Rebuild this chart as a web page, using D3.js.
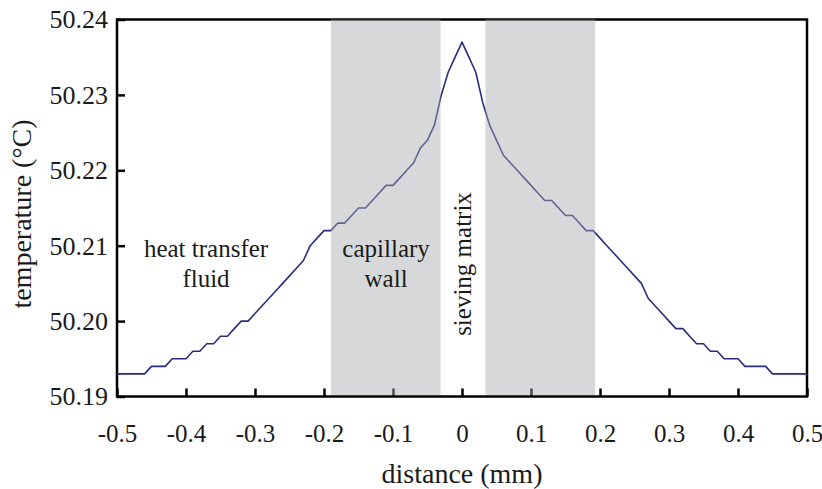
<!DOCTYPE html>
<html>
<head>
<meta charset="utf-8">
<script src="https://cdn.jsdelivr.net/npm/d3@7"></script>
<style>
  html, body { margin: 0; padding: 0; background: #fff; }
  svg { display: block; }
  svg text { font-family: 'Liberation Serif', Tinos, 'Times New Roman', serif; fill: #1a1a1a; }
</style>
</head>
<body>
<svg id="chart" width="822" height="489"></svg>
<script>
// Radial position across the capillary (mm)
const distance = [
  -0.50, -0.49, -0.48, -0.47, -0.46, -0.45, -0.44, -0.43, -0.42, -0.41,
  -0.40, -0.39, -0.38, -0.37, -0.36, -0.35, -0.34, -0.33, -0.32, -0.31,
  -0.30, -0.29, -0.28, -0.27, -0.26, -0.25, -0.24, -0.23, -0.22, -0.21,
  -0.20, -0.19, -0.18, -0.17, -0.16, -0.15, -0.14, -0.13, -0.12, -0.11,
  -0.10, -0.09, -0.08, -0.07, -0.06, -0.05, -0.04, -0.03, -0.02, -0.01,
   0.00,
   0.01,  0.02,  0.03,  0.04,  0.05,  0.06,  0.07,  0.08,  0.09,  0.10,
   0.11,  0.12,  0.13,  0.14,  0.15,  0.16,  0.17,  0.18,  0.19,  0.20,
   0.21,  0.22,  0.23,  0.24,  0.25,  0.26,  0.27,  0.28,  0.29,  0.30,
   0.31,  0.32,  0.33,  0.34,  0.35,  0.36,  0.37,  0.38,  0.39,  0.40,
   0.41,  0.42,  0.43,  0.44,  0.45,  0.46,  0.47,  0.48,  0.49,  0.50
];

// Temperature profile (°C)
const temperature = [
  50.193, 50.193, 50.193, 50.193, 50.193, 50.194, 50.194, 50.194, 50.195, 50.195,
  50.195, 50.196, 50.196, 50.197, 50.197, 50.198, 50.198, 50.199, 50.200, 50.200,
  50.201, 50.202, 50.203, 50.204, 50.205, 50.206, 50.207, 50.208, 50.210, 50.211,
  50.212, 50.212, 50.213, 50.213, 50.214, 50.215, 50.215, 50.216, 50.217, 50.218,
  50.218, 50.219, 50.220, 50.221, 50.223, 50.224, 50.226, 50.230, 50.233, 50.235,
  50.237,
  50.235, 50.233, 50.229, 50.226, 50.224, 50.222, 50.221, 50.220, 50.219, 50.218,
  50.217, 50.216, 50.216, 50.215, 50.214, 50.214, 50.213, 50.212, 50.212, 50.211,
  50.210, 50.209, 50.208, 50.207, 50.206, 50.205, 50.203, 50.202, 50.201, 50.200,
  50.199, 50.199, 50.198, 50.197, 50.197, 50.196, 50.196, 50.195, 50.195, 50.195,
  50.194, 50.194, 50.194, 50.194, 50.193, 50.193, 50.193, 50.193, 50.193, 50.193
];

// Capillary wall cross-section (mm), both sides of the sieving matrix
const wallStart = [-0.190, 0.034];
const wallEnd   = [-0.031, 0.193];

const xTicks = [-0.5, -0.4, -0.3, -0.2, -0.1, 0, 0.1, 0.2, 0.3, 0.4, 0.5];
const yTicks = [50.19, 50.20, 50.21, 50.22, 50.23, 50.24];

const regionLabels = [
  { lines: ["heat transfer", "fluid"], x: -0.371 },
  { lines: ["capillary", "wall"], x: -0.110 }
];

const SERIF = "'Liberation Serif', Tinos, 'Times New Roman', serif";
const margin = { left: 117, right: 15, top: 19.5, bottom: 92.5 };
const W = 822, H = 489;

const svg = d3.select("#chart");

const x = d3.scaleLinear().domain([-0.5, 0.5]).range([margin.left, W - margin.right]);
const y = d3.scaleLinear().domain([50.19, 50.24]).range([H - margin.bottom, margin.top]);

const x0 = x.range()[0], x1 = x.range()[1];
const y0 = y.range()[1], y1 = y.range()[0];

// axes with inward ticks
const gx = svg.append("g")
  .attr("transform", `translate(0,${y1})`)
  .call(d3.axisBottom(x).tickValues(xTicks).tickSize(-8).tickPadding(28)
    .tickFormat(d => d === 0 ? "0" : d.toFixed(1)));
const gy = svg.append("g")
  .attr("transform", `translate(${x0},0)`)
  .call(d3.axisLeft(y).tickValues(yTicks).tickSize(-8).tickPadding(9)
    .tickFormat(d3.format(".2f")));

[gx, gy].forEach(g => {
  g.attr("font-family", SERIF).attr("font-size", 25);
  g.select(".domain").remove();
  g.selectAll(".tick line").attr("stroke", "#000").attr("stroke-width", 2.5);
  g.selectAll(".tick text").attr("fill", "#1a1a1a");
});
gy.attr("font-size", 26);

// plot frame
svg.append("rect")
  .attr("x", x0).attr("y", y0)
  .attr("width", x1 - x0).attr("height", y1 - y0)
  .attr("fill", "none").attr("stroke", "#000").attr("stroke-width", 2.5);

// temperature profile
const pts = distance.map((d, i) => [d, temperature[i]]);
svg.append("path")
  .datum(pts)
  .attr("fill", "none")
  .attr("stroke", "#2b2d7c")
  .attr("stroke-width", 1.6)
  .attr("stroke-linejoin", "round")
  .attr("d", d3.line().x(d => x(d[0])).y(d => y(d[1])));

// capillary wall bands (translucent, over the curve)
svg.selectAll("rect.wall")
  .data(wallStart.map((s, i) => [s, wallEnd[i]]))
  .join("rect")
  .attr("class", "wall")
  .attr("x", d => x(d[0]))
  .attr("width", d => x(d[1]) - x(d[0]))
  .attr("y", y0)
  .attr("height", y1 - y0 - 1.5)
  .attr("fill", "#a6a8ae")
  .attr("fill-opacity", 0.45);

// region labels
regionLabels.forEach(r => {
  const t = svg.append("text")
    .attr("x", x(r.x))
    .attr("y", 256.5)
    .attr("text-anchor", "middle")
    .attr("font-family", SERIF)
    .attr("font-size", 25);
  r.lines.forEach((s, i) => {
    t.append("tspan").attr("x", x(r.x)).attr("dy", i === 0 ? 0 : 30).text(s);
  });
});

svg.append("text")
  .attr("transform", `translate(${x(0) + 9},${264}) rotate(-90)`)
  .attr("text-anchor", "middle")
  .attr("font-family", SERIF)
  .attr("font-size", 25)
  .text("sieving matrix");

// axis titles
svg.append("text")
  .attr("x", x(0))
  .attr("y", 483)
  .attr("text-anchor", "middle")
  .attr("font-family", SERIF)
  .attr("font-size", 28)
  .text("distance (mm)");

svg.append("text")
  .attr("transform", `translate(31,214) rotate(-90)`)
  .attr("text-anchor", "middle")
  .attr("font-family", SERIF)
  .attr("font-size", 28)
  .text("temperature (°C)");
</script>
</body>
</html>
